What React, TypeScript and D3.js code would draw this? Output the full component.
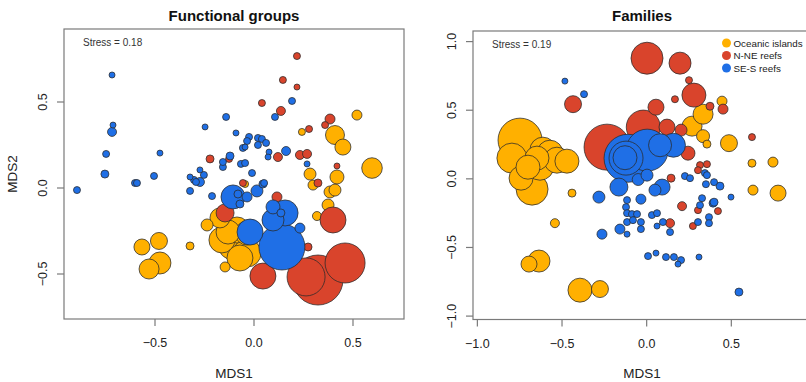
import React from "react";
import * as d3 from "d3";

// ---------- data ----------
const groupNames = ["Oceanic islands", "N-NE reefs", "SE-S reefs"];
const groupColors = ["#FFB000", "#D9442C", "#1F6FE6"];

// [MDS1, MDS2, size]
const fgOceanic: [number, number, number][] = [
  [0.52, 0.424, 5], [0.409, 0.308, 9.5], [0.449, 0.238, 8], [0.242, 0.326, 3.5],
  [0.596, 0.116, 10.3], [0.419, 0.064, 7], [0.283, 0.081, 6], [0.298, 0.017, 5],
  [0.384, -0.023, 6], [0.409, -0.012, 6], [-0.045, 0.023, 3.5], [0.374, -0.099, 6],
  [0.318, -0.163, 4.5], [-0.172, -0.174, 10], [-0.237, -0.215, 6], [-0.323, -0.337, 4],
  [-0.146, -0.459, 5], [-0.086, -0.244, 13], [-0.106, -0.331, 15], [-0.035, -0.378, 14],
  [-0.035, -0.262, 12], [-0.162, -0.302, 13], [-0.071, -0.407, 13], [-0.131, -0.256, 12],
  [-0.566, -0.343, 8], [-0.48, -0.308, 8.5], [-0.475, -0.436, 11], [-0.53, -0.471, 10],
];
const fgNNE: [number, number, number][] = [
  [0.217, 0.767, 3.5], [0.146, 0.628, 3.5], [0.217, 0.587, 3], [0.04, 0.494, 3.5],
  [0.136, 0.448, 4.5], [0.384, 0.401, 5], [0.359, 0.366, 3.5], [0.278, 0.343, 3.5],
  [0.232, 0.192, 4.5], [0.268, 0.198, 4.5], [0.121, 0.18, 4.5], [-0.222, 0.169, 4],
  [-0.126, 0.169, 3.5], [0.419, 0.128, 3], [0.323, 0.029, 4], [-0.056, 0.029, 3.5],
  [0.116, -0.052, 5], [-0.146, -0.145, 9], [0.273, -0.343, 4], [0.399, -0.186, 13],
  [0.045, -0.512, 13], [0.323, -0.535, 25], [0.263, -0.517, 19], [0.46, -0.436, 20],
];
const fgSES: [number, number, number][] = [
  [-0.894, -0.012, 3.5], [-0.717, 0.657, 3], [-0.712, 0.366, 3], [-0.717, 0.326, 4.5],
  [-0.747, 0.198, 3.5], [-0.753, 0.081, 4], [-0.601, 0.029, 3.5], [-0.591, 0.029, 3.5],
  [-0.475, 0.203, 3], [-0.505, 0.07, 3.5], [-0.323, -0.017, 3.5], [-0.323, 0.064, 3],
  [-0.303, 0.047, 3.5], [-0.293, 0.035, 3.5], [-0.273, 0.035, 4.5], [-0.273, 0.105, 3],
  [-0.253, 0.076, 3.5], [-0.212, -0.047, 3.5], [-0.247, 0.355, 3], [-0.141, 0.413, 3.5],
  [-0.091, 0.32, 3], [-0.157, 0.122, 3.5], [-0.121, 0.186, 4], [-0.157, 0.151, 3.5],
  [-0.025, 0.297, 3.5], [-0.035, 0.273, 3.5], [-0.045, 0.238, 3], [0.02, 0.291, 3.5],
  [0.04, 0.285, 3.5], [0.061, 0.262, 3.5], [0.02, 0.25, 3.5], [0.076, 0.209, 3],
  [0.071, 0.18, 3], [-0.056, 0.233, 3.5], [0.162, 0.215, 4.5], [0.192, 0.506, 3.5],
  [0.106, 0.413, 3.5], [0.268, 0.14, 3], [-0.066, 0.14, 3.5], [-0.045, 0.145, 3.5],
  [-0.01, 0.087, 3.5], [0.051, 0.029, 3.5], [-0.106, -0.052, 12], [-0.081, -0.035, 4],
  [-0.035, -0.052, 5], [0.015, -0.017, 6], [0.045, 0.023, 4], [-0.071, -0.093, 4],
  [0.096, -0.11, 7], [0.157, -0.145, 13], [0.136, -0.145, 4], [0.096, -0.186, 11],
  [0.141, -0.343, 23], [-0.02, -0.256, 13], [0.232, -0.233, 5],
];

const famOceanic: [number, number, number][] = [
  [-0.748, 0.282, 22], [-0.796, 0.151, 15], [-0.742, 0.005, 12], [-0.677, -0.075, 16],
  [-0.63, 0.092, 14], [-0.613, 0.209, 13], [-0.571, 0.187, 13], [-0.53, 0.136, 13],
  [-0.471, 0.129, 12], [-0.648, 0.151, 12], [-0.701, 0.085, 12], [-0.441, -0.104, 4],
  [-0.542, -0.323, 4.5], [-0.695, -0.621, 8], [-0.636, -0.599, 11], [-0.394, -0.811, 12],
  [-0.276, -0.803, 8.5], [0.268, 0.384, 10], [0.333, 0.471, 10], [0.333, 0.311, 6.5],
  [0.356, 0.253, 4], [0.445, 0.566, 5], [0.486, 0.26, 8.5], [0.622, 0.114, 4],
  [0.746, 0.122, 5], [0.628, -0.082, 5], [0.776, -0.104, 8],
];
const famNNE: [number, number, number][] = [
  [0.002, 0.879, 16], [0.197, 0.843, 11], [0.25, 0.719, 3.5], [0.279, 0.61, 12],
  [0.167, 0.58, 3.5], [-0.435, 0.544, 8.5], [0.055, 0.522, 8], [0.374, 0.529, 4],
  [0.451, 0.508, 5], [-0.234, 0.231, 23], [-0.02, 0.377, 17], [0.12, 0.377, 8],
  [0.203, 0.355, 6], [0.244, 0.187, 7], [0.622, 0.304, 3.5], [0.315, 0.1, 3.5],
  [0.356, 0.107, 3.5], [0.303, 0.063, 3.5], [0.144, 0.005, 4], [0.209, -0.199, 4.5],
  [0.138, -0.323, 4.5], [0.303, -0.228, 3.5], [0.421, -0.235, 3.5], [0.273, -0.344, 3.5],
];
const famSES: [number, number, number][] = [
  [-0.11, 0.15, 24], [0.003, 0.209, 21], [-0.122, 0.151, 17], [-0.128, 0.154, 12],
  [0.079, 0.245, 11.5], [0.158, 0.245, 12], [-0.164, -0.06, 9], [-0.05, -0.005, 6],
  [0.002, 0.027, 6], [0.091, -0.06, 8], [0.049, -0.082, 6], [-0.282, -0.133, 6],
  [-0.034, -0.148, 5], [-0.483, 0.712, 3], [-0.37, 0.617, 3.5], [0.226, 0.02, 3.5],
  [0.256, 0.005, 3.5], [0.344, 0.042, 3.5], [0.356, 0.027, 3.5], [0.398, -0.024, 3.5],
  [0.433, -0.053, 4], [0.35, -0.039, 3.5], [0.498, -0.133, 3], [0.327, -0.141, 3.5],
  [0.315, -0.192, 3.5], [0.392, -0.177, 4], [0.398, -0.17, 4], [0.368, -0.279, 3.5],
  [0.368, -0.323, 3.5], [0.303, -0.315, 3.5], [-0.116, -0.155, 3.5], [-0.122, -0.206, 3.5],
  [-0.116, -0.25, 3.5], [-0.087, -0.257, 3.5], [-0.057, -0.257, 3.5], [-0.116, -0.315, 3.5],
  [-0.081, -0.301, 3.5], [-0.034, -0.315, 3.5], [-0.034, -0.366, 3.5], [-0.116, -0.403, 3],
  [-0.158, -0.366, 5], [-0.264, -0.403, 5], [0.031, -0.264, 3.5], [0.061, -0.25, 3.5],
  [0.061, -0.344, 3], [0.096, -0.315, 3.5], [0.138, -0.388, 3.5], [0.008, -0.563, 3.5],
  [0.055, -0.541, 3], [0.114, -0.57, 3.5], [0.161, -0.57, 3.5], [0.203, -0.592, 3.5],
  [0.185, -0.621, 3], [0.309, -0.57, 3], [0.545, -0.825, 4],
];

const fgXTicks = [-0.5, 0, 0.5];
const fgYTicks = [-0.5, 0, 0.5];
const famXTicks = [-1, -0.5, 0, 0.5];
const famYTicks = [-1, -0.5, 0, 0.5, 1];

const FONT = "'Liberation Sans', Arial, Helvetica, sans-serif";

type Pt = [number, number, number];

interface PanelProps {
  title: string;
  stress: string;
  left: number;
  right: number;
  top: number;
  bottom: number;
  xDomain: [number, number];
  yDomain: [number, number];
  xTicks: number[];
  yTicks: number[];
  groups: Pt[][];
  showYLabel: boolean;
  legend: boolean;
}

const fmt = d3.format(".1f");

function Panel(p: PanelProps) {
  const x = d3.scaleLinear().domain(p.xDomain).range([p.left, p.right]);
  const y = d3.scaleLinear().domain(p.yDomain).range([p.bottom, p.top]);
  const r = d3.scaleLinear().domain([0, 10]).range([0, 10]);
  const cx = (p.left + p.right) / 2;
  const cy = (p.top + p.bottom) / 2;
  const axisColor = "#7a7a7a";
  const textColor = "#222";
  return (
    <g>
      <text x={cx} y={21} textAnchor="middle" fontFamily={FONT} fontWeight="bold" fontSize={15} fill="#111">
        {p.title}
      </text>
      {p.groups.map((pts, gi) => {
        const sorted = [...pts].sort((a, b) => b[2] - a[2]);
        return (
          <g key={gi}>
            {sorted.map((d, i) => (
              <circle
                key={i}
                cx={x(d[0])}
                cy={y(d[1])}
                r={r(d[2])}
                fill={groupColors[gi]}
                stroke="#2a2a2a"
                strokeOpacity={0.85}
                strokeWidth={0.9}
              />
            ))}
          </g>
        );
      })}
      <rect x={p.left} y={p.top} width={p.right - p.left} height={p.bottom - p.top} fill="none" stroke={axisColor} strokeWidth={1.2} />
      {p.xTicks.map((t) => (
        <g key={"x" + t}>
          <line x1={x(t)} x2={x(t)} y1={p.bottom} y2={p.bottom + 7} stroke={axisColor} strokeWidth={1.2} />
          <text x={x(t)} y={p.bottom + 28} textAnchor="middle" fontFamily={FONT} fontSize={12.5} fill={textColor}>
            {fmt(t)}
          </text>
        </g>
      ))}
      {p.yTicks.map((t) => (
        <g key={"y" + t}>
          <line x1={p.left} x2={p.left - 7} y1={y(t)} y2={y(t)} stroke={axisColor} strokeWidth={1.2} />
          <text
            transform={`translate(${p.left - 17},${y(t)}) rotate(-90)`}
            textAnchor="middle"
            fontFamily={FONT}
            fontSize={12.5}
            fill={textColor}
          >
            {fmt(t)}
          </text>
        </g>
      ))}
      <text x={cx} y={378} textAnchor="middle" fontFamily={FONT} fontSize={13.5} fill={textColor}>
        MDS1
      </text>
      {p.showYLabel && (
        <text transform={`translate(17,${cy}) rotate(-90)`} textAnchor="middle" fontFamily={FONT} fontSize={13.5} fill={textColor}>
          MDS2
        </text>
      )}
      <text x={p.left + 19} y={p.top + 17} fontFamily={FONT} fontSize={10} fill="#333">
        {p.stress}
      </text>
      {p.legend &&
        groupNames.map((g, i) => (
          <g key={g}>
            <circle cx={p.right - 84.5} cy={p.top + 12 + i * 12.5} r={4.5} fill={groupColors[i]} />
            <text x={p.right - 77.5} y={p.top + 15.5 + i * 12.5} fontFamily={FONT} fontSize={9.8} fill="#222">
              {g}
            </text>
          </g>
        ))}
    </g>
  );
}

export default function App() {
  return (
    <div style={{ position: "absolute", left: 0, top: 0, width: 806, height: 382, background: "#fff" }}>
      <svg width={806} height={382} style={{ display: "block" }}>
        <rect width={806} height={382} fill="#fff" />
        <Panel
          title="Functional groups"
          stress="Stress = 0.18"
          left={64}
          right={404}
          top={29}
          bottom={319}
          xDomain={[-0.9596, 0.7576]}
          yDomain={[-0.7616, 0.9244]}
          xTicks={fgXTicks}
          yTicks={fgYTicks}
          groups={[fgOceanic, fgNNE, fgSES]}
          showYLabel={true}
          legend={false}
        />
        <Panel
          title="Families"
          stress="Stress = 0.19"
          left={473}
          right={811}
          top={31}
          bottom={319.5}
          xDomain={[-1.0258, 0.9706]}
          yDomain={[-1.0248, 1.0772]}
          xTicks={famXTicks}
          yTicks={famYTicks}
          groups={[famOceanic, famNNE, famSES]}
          showYLabel={false}
          legend={true}
        />
      </svg>
    </div>
  );
}
